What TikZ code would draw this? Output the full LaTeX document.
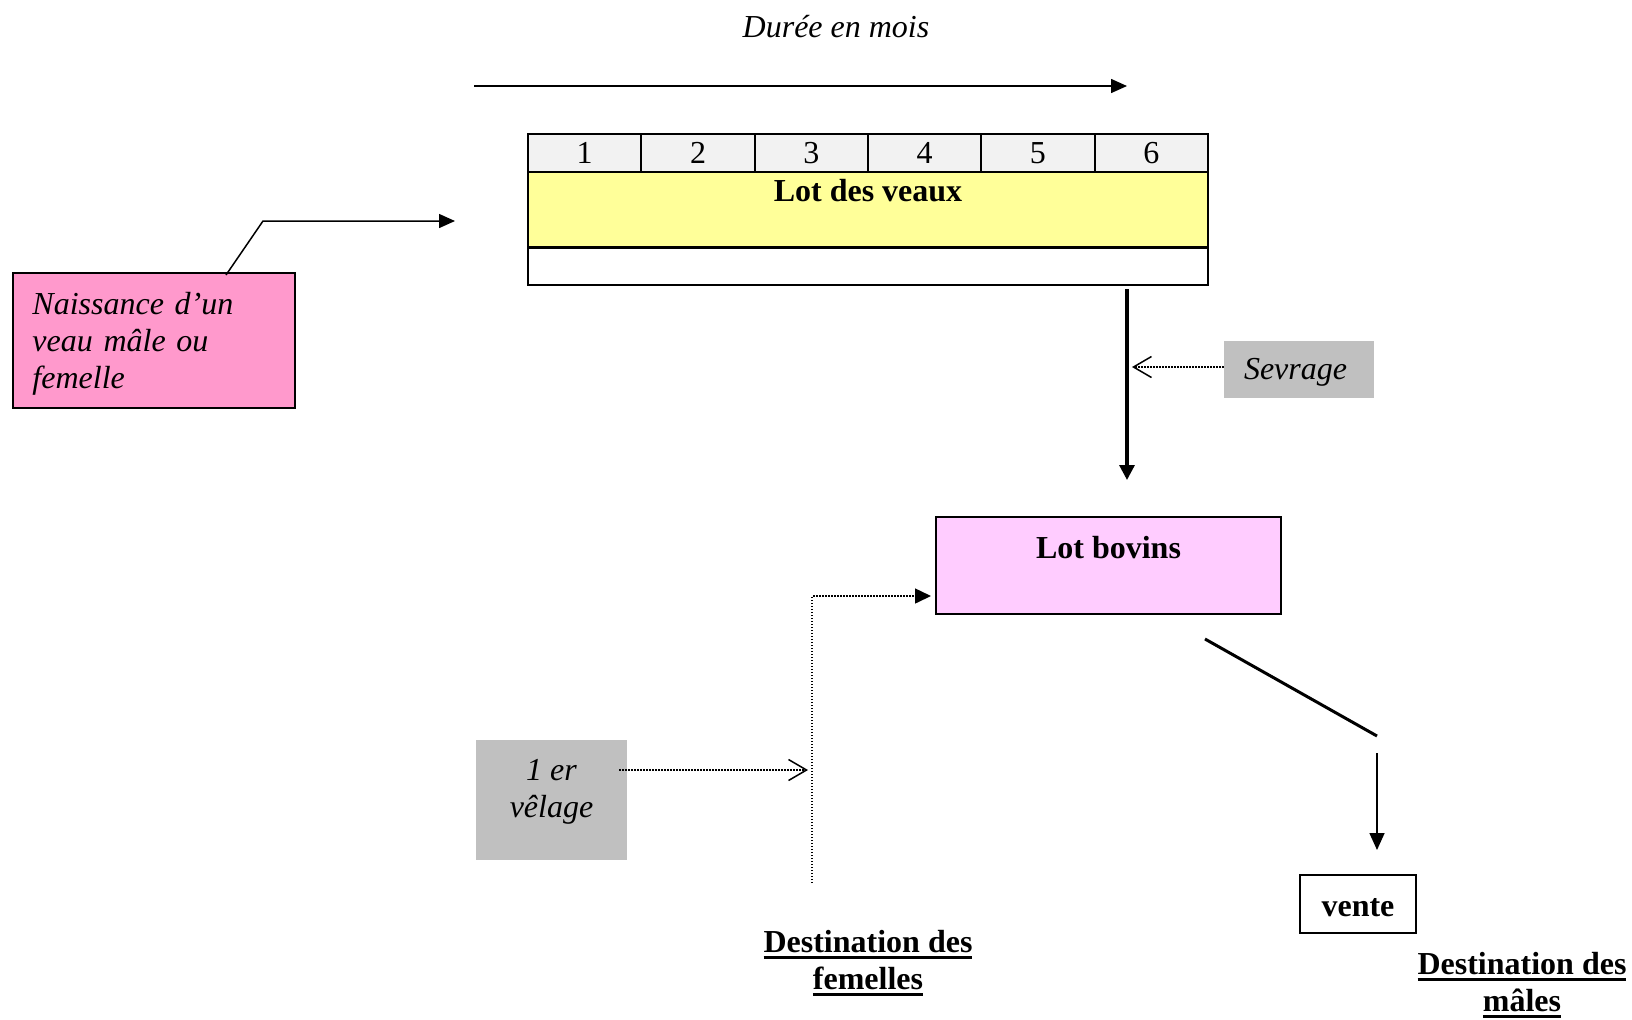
\documentclass[tikz,border=0pt]{standalone}
\usepackage{fontspec}
\setmainfont{Liberation Serif}
\usetikzlibrary{arrows.meta}
\definecolor{naisspink}{HTML}{FF99CC}
\definecolor{veauxyellow}{HTML}{FFFF99}
\definecolor{bovinlilac}{HTML}{FFCCFF}
\definecolor{notegray}{HTML}{C0C0C0}
\definecolor{headgray}{HTML}{F2F2F2}
% thick underline under a bold heading
\newcommand\boldul[1]{\setbox0\hbox{#1}\rlap{\rule[-3pt]{\wd0}{1.5pt}}\box0}
% invisible struts that add depth below / height above the text
\newcommand\dropstrut[1]{\rule[-#1]{0pt}{#1}}
\newcommand\liftstrut[1]{\rule{0pt}{#1}}

\begin{document}
\begin{tikzpicture}[x=0.5pt,y=-0.5pt,
  every node/.style={inner sep=0pt, font=\fontsize{16}{18.5}\selectfont},
  labelit/.style={font=\fontsize{16}{18.5}\selectfont\itshape},
  labelbf/.style={font=\fontsize{16}{18.5}\selectfont\bfseries},
  outline/.style={draw=black, line width=1pt},
  cell/.style={outline, fill=headgray, minimum width=56.67pt, minimum height=19pt},
  note/.style={fill=notegray},
  conn/.style={line width=0.75pt},
  heavy/.style={line width=1.6pt},
  dotconn/.style={line width=0.75pt, dash pattern=on 0.75pt off 0.75pt},
  solidtip/.style={-{Triangle[length=8pt,width=7pt]}},
  opentip/.style={-{Straight Barb[length=9pt,width=10.5pt,line width=0.75pt]}}
]
\useasboundingbox (0,0) rectangle (1632,1019);

% time axis
\node[labelit] (duree) at (836,27) {Durée en mois};
\coordinate (axisL) at (474,86);
\coordinate (axisR) at (1127,86);
\draw[conn, solidtip] (axisL) -- (axisR);

% month table
\foreach \i in {1,...,6}
  \node[cell] (m\i) at ({528+113.33*(\i-0.5)},153) {\i};
\node[outline, fill=veauxyellow, minimum width=340pt, minimum height=37.5pt, labelbf]
  (veaux) at (868,209.5) {Lot des veaux\dropstrut{19pt}};
\node[outline, minimum width=340pt, minimum height=18.5pt, anchor=north] (blank) at (868,247) {};

% birth
\node[outline, fill=naisspink, minimum width=141pt, minimum height=67.5pt,
  text width=121pt, align=left, labelit] (naiss) at (153.5,340.5)
  {\liftstrut{14pt}Naissance d’un\\veau mâle ou\\femelle};
\coordinate (nStart) at ([xshift=36.25pt,yshift=-1.5pt]naiss.north);
\coordinate (nBend) at (263,221);
\coordinate (nEnd) at (455,221);
\draw[conn, solidtip] (nStart) -- (nBend) -- (nEnd);

% weaning
\node[note, minimum width=75pt, minimum height=28.5pt, text width=55pt, align=left, labelit]
  (sevrage) at (1299,369.5) {\liftstrut{13.7pt}Sevrage};
\coordinate (vTop) at (1127,289);
\coordinate (vBot) at (1127,480);
\draw[heavy, -{Triangle[length=7.5pt,width=7.5pt]}] (vTop) -- (vBot);
\coordinate (sevHit) at (1132,367);
\draw[dotconn, opentip] (sevHit -| sevrage.west) -- (sevHit);

% cattle lot
\node[outline, fill=bovinlilac, minimum width=172.5pt, minimum height=48.5pt, labelbf]
  (bovins) at (1108.5,565.5) {Lot bovins\dropstrut{18pt}};

% females
\coordinate (fBot) at (812,883);
\coordinate (fCorner) at (812,596);
\draw[dotconn, -{Triangle[length=8pt,width=7.5pt]}, shorten >=2pt]
  (fBot) -- (fCorner) -- (fCorner -| bovins.west);
\node[note, minimum width=75.5pt, minimum height=60pt, align=center, labelit]
  (velage) at (551.5,800) {1 er\\vêlage\dropstrut{12pt}};
\coordinate (vHit) at (808,770);
\draw[dotconn, opentip, shorten <=-4pt] (velage.east |- vHit) -- (vHit);
\node[align=center, anchor=north, labelbf] (destF) at (868,930)
  {\boldul{Destination des}\\\boldul{femelles}};

% males
\coordinate (dA) at (1205,639);
\coordinate (dB) at (1377,736);
\draw[heavy, line width=1.5pt] (dA) -- (dB);
\coordinate (mTop) at (1377,753);
\coordinate (mTip) at (1377,850);
\draw[conn, -{Triangle[length=8.5pt,width=7.5pt]}] (mTop) -- (mTip);
\node[outline, minimum width=58pt, minimum height=29pt, labelbf] (vente) at (1358,904)
  {\liftstrut{13pt}vente};
\node[align=center, anchor=north, labelbf] (destM) at (1522,952)
  {\boldul{Destination des}\\\boldul{mâles}};
\end{tikzpicture}
\end{document}
